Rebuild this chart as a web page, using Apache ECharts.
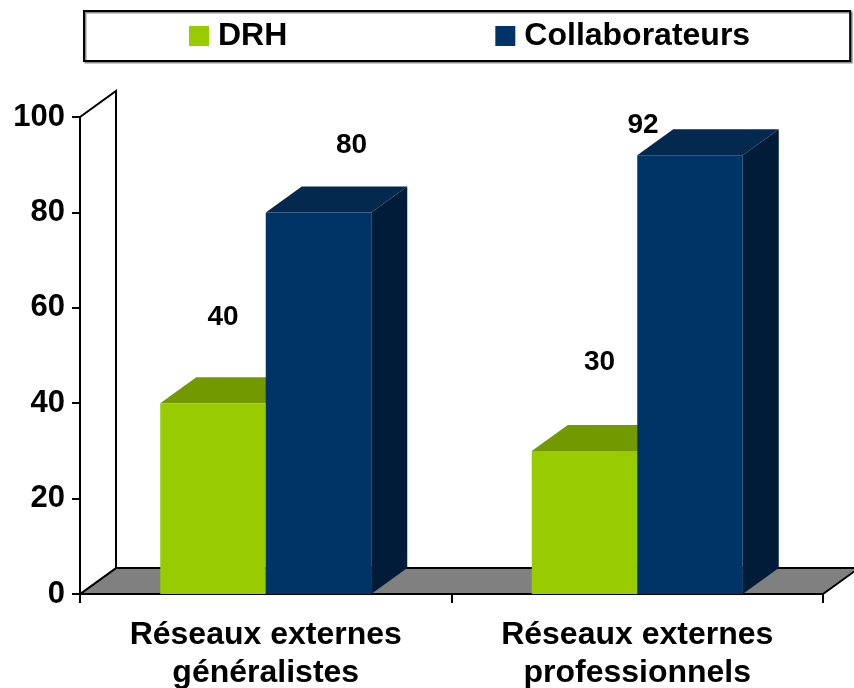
<!DOCTYPE html>
<html>
<head>
<meta charset="utf-8">
<script src="https://cdn.jsdelivr.net/npm/echarts@6/dist/echarts.min.js"></script>
<style>
  html, body { margin: 0; padding: 0; background: #ffffff; }
  #chart { width: 854px; height: 688px; }
</style>
</head>
<body>
<div id="chart"></div>
<script>
// Data
const categories = ['Réseaux externes\ngénéralistes', 'Réseaux externes\nprofessionnels'];
const seriesNames = ['DRH', 'Collaborateurs'];
const drhValues = [40, 30];
const collaborateursValues = [80, 92];
const yMin = 0;
const yMax = 100;
const yInterval = 20;

// Presentation
const FONT = '"Liberation Sans", Arial, sans-serif';
const DEPTH_X = 36;     // horizontal shift of the 3D depth
const DEPTH_Y = -26;    // vertical shift of the 3D depth
const BAR_RATIO = 0.284; // width of one bar relative to a category band
const drhLabelOffsets = [[10, -86], [15, -89]];
const collabLabelOffsets = [[33, -67], [-47, -30]];

const drhColors = { front: '#99CC00', top: '#729900', side: '#5C7A00' };
const collabColors = { front: '#003366', top: '#03294F', side: '#001C38' };

function renderFrame(params, api) {
  const cs = params.coordSys;
  const x0 = cs.x, x1 = cs.x + cs.width;
  const y0 = cs.y, y1 = cs.y + cs.height;
  return {
    type: 'group',
    children: [
      {
        type: 'polygon',
        shape: { points: [[x0, y1], [x0 + DEPTH_X, y1 + DEPTH_Y], [x1 + DEPTH_X, y1 + DEPTH_Y], [x1, y1]] },
        style: { fill: '#808080', stroke: '#000000', lineWidth: 2 }
      },
      {
        type: 'polygon',
        shape: { points: [[x0, y0], [x0 + DEPTH_X, y0 + DEPTH_Y], [x0 + DEPTH_X, y1 + DEPTH_Y], [x0, y1]] },
        style: { fill: '#ffffff', stroke: '#000000', lineWidth: 2 }
      }
    ]
  };
}

function makeBarRenderer(side, colors, offsets) {
  return function (params, api) {
    const idx = api.value(0);
    const v = api.value(1);
    const topPt = api.coord([idx, v]);
    const basePt = api.coord([idx, 0]);
    const band = api.size([1, 0])[0];
    const w = band * BAR_RATIO;
    const xl = side === 'left' ? topPt[0] - w : topPt[0];
    const xr = xl + w;
    const yt = topPt[1];
    const yb = basePt[1];
    const off = offsets[params.dataIndex];
    return {
      type: 'group',
      children: [
        {
          type: 'polygon',
          shape: { points: [[xr, yt], [xr + DEPTH_X, yt + DEPTH_Y], [xr + DEPTH_X, yb + DEPTH_Y], [xr, yb]] },
          style: { fill: colors.side }
        },
        {
          type: 'polygon',
          shape: { points: [[xl, yt], [xl + DEPTH_X, yt + DEPTH_Y], [xr + DEPTH_X, yt + DEPTH_Y], [xr, yt]] },
          style: { fill: colors.top }
        },
        {
          type: 'rect',
          shape: { x: xl, y: yt, width: w, height: yb - yt },
          style: { fill: colors.front }
        },
        {
          type: 'text',
          x: (xl + xr) / 2 + off[0],
          y: yt + off[1],
          style: {
            text: String(v),
            fill: '#000000',
            fontSize: 28,
            fontWeight: 'bold',
            fontFamily: FONT,
            align: 'center',
            verticalAlign: 'middle'
          }
        }
      ]
    };
  };
}

const chart = echarts.init(document.getElementById('chart'), null, { renderer: 'canvas' });

chart.setOption({
  backgroundColor: '#ffffff',
  animation: false,
  legend: {
    data: seriesNames,
    left: 84,
    top: 11,
    padding: [7, 100, 7, 105],
    itemGap: 208,
    itemWidth: 20,
    itemHeight: 20,
    icon: 'rect',
    borderColor: '#000000',
    borderWidth: 2,
    shadowColor: 'rgba(0,0,0,0.45)',
    shadowOffsetX: 1.5,
    shadowOffsetY: 1.5,
    shadowBlur: 0,
    selectedMode: false,
    textStyle: {
      color: '#000000',
      fontSize: 32,
      fontWeight: 'bold',
      fontFamily: FONT,
      lineHeight: 36,
      padding: [0, 0, 0, 4]
    }
  },
  grid: { left: 80, right: 31, top: 117, bottom: 94, containLabel: false, outerBoundsMode: 'none' },
  xAxis: {
    type: 'category',
    data: categories,
    boundaryGap: true,
    axisLine: { show: true, lineStyle: { color: '#000000', width: 2 } },
    axisTick: { show: true, length: 9, interval: 0, lineStyle: { color: '#000000', width: 2 } },
    axisLabel: {
      interval: 0,
      margin: 22,
      color: '#000000',
      fontSize: 32,
      fontWeight: 'bold',
      fontFamily: FONT,
      lineHeight: 38
    },
    splitLine: { show: false }
  },
  yAxis: {
    type: 'value',
    min: yMin,
    max: yMax,
    interval: yInterval,
    axisLine: { show: true, lineStyle: { color: '#000000', width: 2 } },
    axisTick: { show: true, length: 8, lineStyle: { color: '#000000', width: 2 } },
    axisLabel: {
      margin: 15,
      color: '#000000',
      fontSize: 31,
      fontWeight: 'bold',
      fontFamily: FONT
    },
    splitLine: { show: false }
  },
  series: [
    {
      name: 'cadre',
      type: 'custom',
      silent: true,
      z: 1,
      clip: false,
      renderItem: renderFrame,
      data: [[0, 0]]
    },
    {
      name: seriesNames[0],
      type: 'custom',
      z: 2,
      clip: false,
      itemStyle: { color: drhColors.front },
      renderItem: makeBarRenderer('left', drhColors, drhLabelOffsets),
      data: drhValues.map((v, i) => [i, v])
    },
    {
      name: seriesNames[1],
      type: 'custom',
      z: 3,
      clip: false,
      itemStyle: { color: collabColors.front },
      renderItem: makeBarRenderer('right', collabColors, collabLabelOffsets),
      data: collaborateursValues.map((v, i) => [i, v])
    }
  ]
});
</script>
</body>
</html>
